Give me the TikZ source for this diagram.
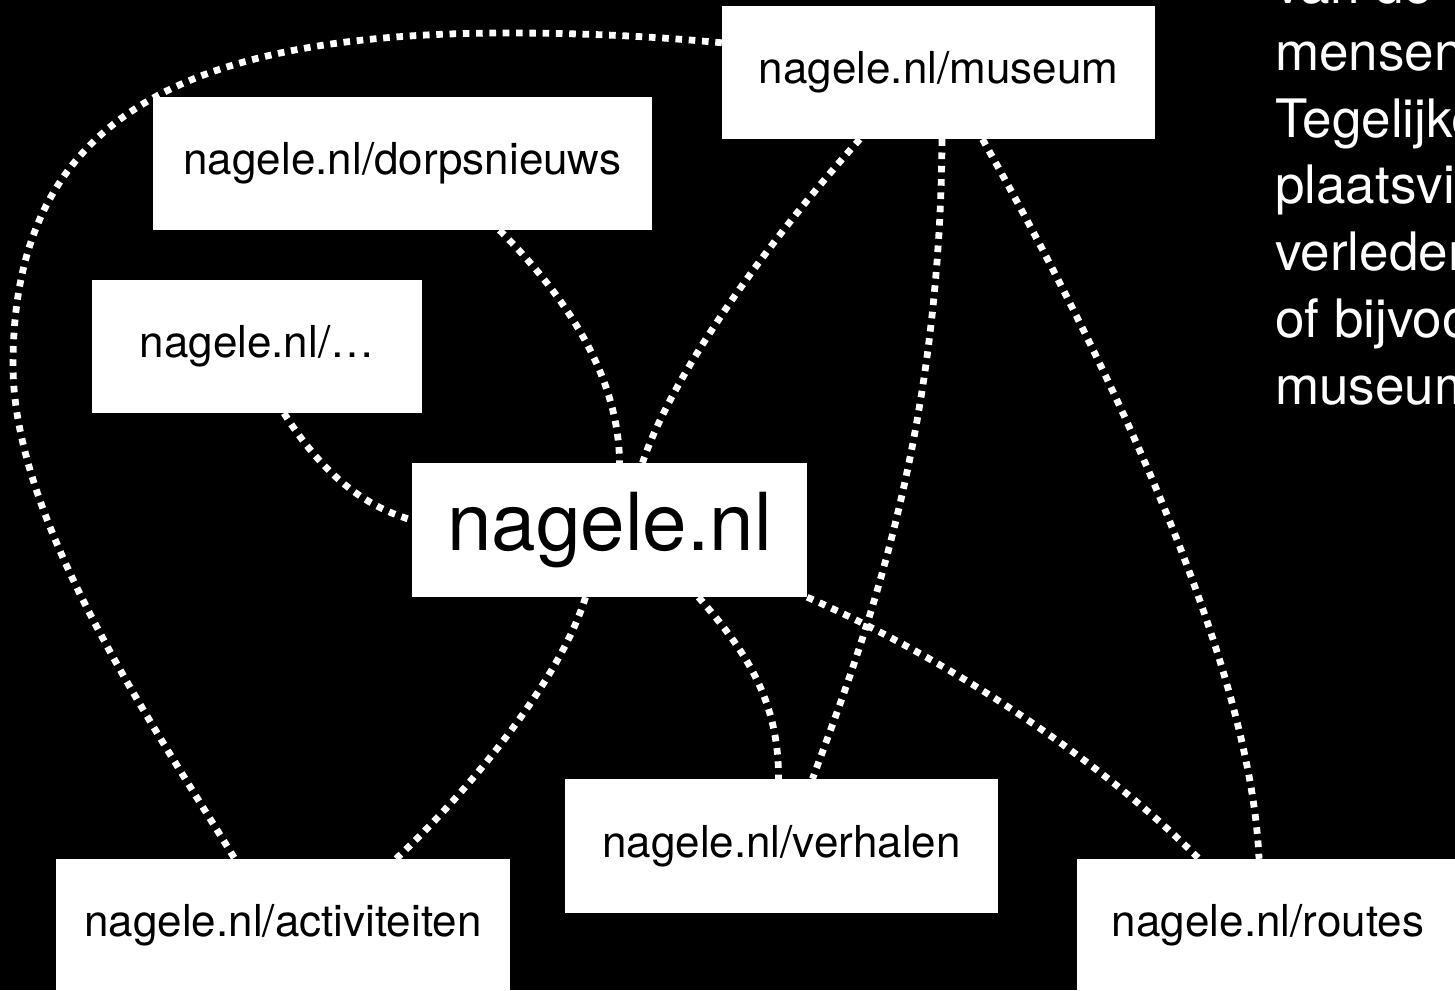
\documentclass[tikz,border=0pt]{standalone}
\usepackage{fontspec}
\setmainfont{TeX Gyre Heros}
\usetikzlibrary{calc}
\pgfdeclarelayer{background}
\pgfsetlayers{background,main}
\begin{document}
\begin{tikzpicture}[x=1pt,y=-1pt,
  box/.style={fill=white, text=black, inner sep=0pt, minimum height=133pt,
    font=\fontsize{44}{53}\selectfont},
  bigbox/.style={box, minimum height=134pt, font=\fontsize{80}{96}\selectfont},
  link/.style={draw=white, line width=6.8pt, dash pattern=on 6.6pt off 6.7pt},
  side/.style={text=white, inner sep=0pt, anchor=base west,
    font=\fontsize{53}{66}\selectfont}]
\useasboundingbox (0,0) rectangle (1455,990);
\clip (0,0) rectangle (1455,990);
% boxes
\node[box, minimum width=433pt] (museum) at (938.5,72.5) {nagele.nl/museum};
\node[box, minimum width=499pt] (dorps) at (402.5,163.5) {nagele.nl/dorpsnieuws};
\node[box, minimum width=330pt] (dots) at (257,346.5) {nagele.nl/…};
\node[bigbox, minimum width=395pt] (main) at (609.5,530) {nagele.nl};
\node[box, minimum width=433pt, minimum height=134pt] (verhalen) at (781.5,846) {nagele.nl/verhalen};
\node[box, minimum width=454pt] (activ) at (283,925.5) {nagele.nl/activiteiten};
\node[box, minimum width=382pt] (routes) at (1268,925.5) {nagele.nl/routes};
% side text (cut off by the right edge, as in the reference)
\foreach \t [count=\i from 0] in {van de, mensen, Tegelijke, plaatsvi, verleden, of bijvoo, museum}
  \node[side] (txt\i) at (1275,{3.5+66.8*\i}) {\t};
\begin{pgfonlayer}{background}
\fill[black] (0,0) rectangle (1455,990);
% 1 big arc museum -> activiteiten
\draw[link] ($(museum.north west)+(0,37)$) .. controls (650,36) and (580,33) .. (507,33)
  .. controls (161,33) and (13,133) .. (13,365)
  .. controls (13,520) and (150,720) .. ($(activ.north west)+(179,0)$);
% 2 dorpsnieuws -> main
\draw[link] ($(dorps.south)+(97,0)$) .. controls (570,300) and (619,380) .. ($(main.north)+(10,0)$);
% 3 dots -> main
\draw[link] ($(dots.south)+(27,0)$) .. controls (320,470) and (360,505) .. ($(main.west)+(0,-10)$);
% 4 museum -> main
\draw[link] ($(museum.south west)+(138,0)$) .. controls (760,250) and (670,380) .. ($(main.north)+(33,0)$);
% 5 museum -> verhalen
\draw[link] ($(museum.south)+(3.5,0)$) .. controls (940,450) and (860,650) .. ($(verhalen.north)+(31,0)$);
% 6 museum -> routes
\draw[link] ($(museum.south)+(44,0)$) .. controls (1090,330) and (1250,650) .. ($(routes.north)+(-9,0)$);
% 7 main -> activiteiten
\draw[link] ($(main.south)+(-24,0)$) .. controls (560,680) and (470,790) .. ($(activ.north)+(113,0)$);
% 8 main -> verhalen
\draw[link] ($(main.south)+(89,0)$) .. controls (745,650) and (779,700) .. ($(verhalen.north)+(-3,0)$);
% 9 main -> routes
\draw[link] (main.south east) .. controls (950,660) and (1100,760) .. ($(routes.north)+(-69,0)$);
\end{pgfonlayer}
\end{tikzpicture}
\end{document}
